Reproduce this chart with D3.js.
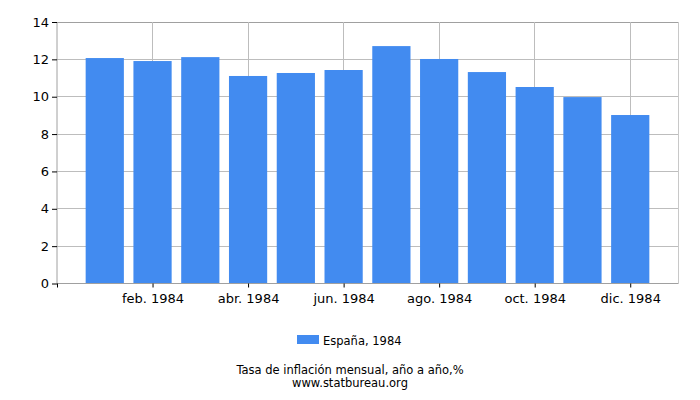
<!DOCTYPE html>
<html><head><meta charset="utf-8">
<script src="https://cdn.jsdelivr.net/npm/d3@7"></script>
<style>body{margin:0;background:#fff}svg{display:block}text{font-family:"DejaVu Sans",Verdana,sans-serif}</style>
</head><body>
<svg id="c" width="700" height="400"></svg>
<script>
const months = ["ene. 1984","feb. 1984","mar. 1984","abr. 1984","may. 1984","jun. 1984","jul. 1984","ago. 1984","sep. 1984","oct. 1984","nov. 1984","dic. 1984"];
const values = [12.07, 11.91, 12.12, 11.11, 11.27, 11.43, 12.71, 12.02, 11.32, 10.52, 9.98, 9.02];
const yTicks = [0, 2, 4, 6, 8, 10, 12, 14];
const seriesName = "España, 1984";
const titleText = "Tasa de inflación mensual, año a año,%";
const sourceText = "www.statbureau.org";

const svg = d3.select("#c");
const L = 57, R = 678, T = 22, B = 283.5;
const x = d3.scaleLinear().domain([0, months.length + 1]).range([L, R]);
const y = d3.scaleLinear().domain([0, 14]).range([B, T]);
const step = x(1) - x(0);
const bw = step * 0.8;

// horizontal grid
svg.append("g").selectAll("line").data(yTicks.filter(d => d > 0)).join("line")
  .attr("x1", L).attr("x2", R).attr("y1", d => y(d)).attr("y2", d => y(d))
  .attr("stroke", d => d === 14 ? "#a0a0a0" : "#bdbdbd").attr("stroke-width", 1).attr("shape-rendering","crispEdges");
// vertical grid at even months
const evenIdx = months.map((m, i) => i).filter(i => i % 2 === 1);
svg.append("g").selectAll("line").data(evenIdx).join("line")
  .attr("x1", i => x(i + 1)).attr("x2", i => x(i + 1)).attr("y1", T).attr("y2", B)
  .attr("stroke", "#bdbdbd").attr("shape-rendering","crispEdges");
// right border
svg.append("line").attr("x1", R).attr("x2", R).attr("y1", T).attr("y2", B)
  .attr("stroke", "#c8c8c8").attr("shape-rendering","crispEdges");

// bars
svg.append("g").selectAll("rect").data(values).join("rect")
  .attr("x", (d, i) => x(i + 1) - bw / 2).attr("width", bw)
  .attr("y", d => y(d)).attr("height", d => y(0) - y(d))
  .attr("fill", "#428bf0");

// left axis
const yAxis = d3.axisLeft(y).tickValues(yTicks).tickSize(5).tickPadding(3).tickFormat(d3.format("d"));
const gy = svg.append("g").attr("transform", `translate(${L},0)`).call(yAxis);
gy.select(".domain").attr("stroke", "#a0a0a0").attr("d", `M0,${T}V${B}`);
gy.selectAll(".tick line").attr("stroke", "#000");
gy.selectAll(".tick text").attr("font-size", 13).attr("fill", "#000").style("font-family", "DejaVu Sans");

// bottom axis
const xAxis = d3.axisBottom(x).tickValues([0].concat(evenIdx.map(i => i + 1)))
  .tickSize(4).tickPadding(6).tickFormat(v => v === 0 ? "" : months[v - 1]);
const gx = svg.append("g").attr("transform", `translate(0,${B})`).call(xAxis);
gx.select(".domain").attr("stroke", "#a0a0a0").attr("d", `M${L},0H${R}`);
gx.selectAll(".tick line").attr("stroke", "#000");
gx.selectAll(".tick text").attr("font-size", 13).attr("fill", "#000").style("font-family", "DejaVu Sans");

// legend
svg.append("rect").attr("x", 297).attr("y", 335).attr("width", 22).attr("height", 9).attr("fill", "#428bf0");
svg.append("text").attr("x", 323).attr("y", 345).attr("font-size", 11.5).text(seriesName);

// titles
svg.append("text").attr("x", 350).attr("y", 373.5).attr("text-anchor", "middle").attr("font-size", 11.5).text(titleText);
svg.append("text").attr("x", 350).attr("y", 387).attr("text-anchor", "middle").attr("font-size", 11.5).text(sourceText);
</script>
</body></html>
